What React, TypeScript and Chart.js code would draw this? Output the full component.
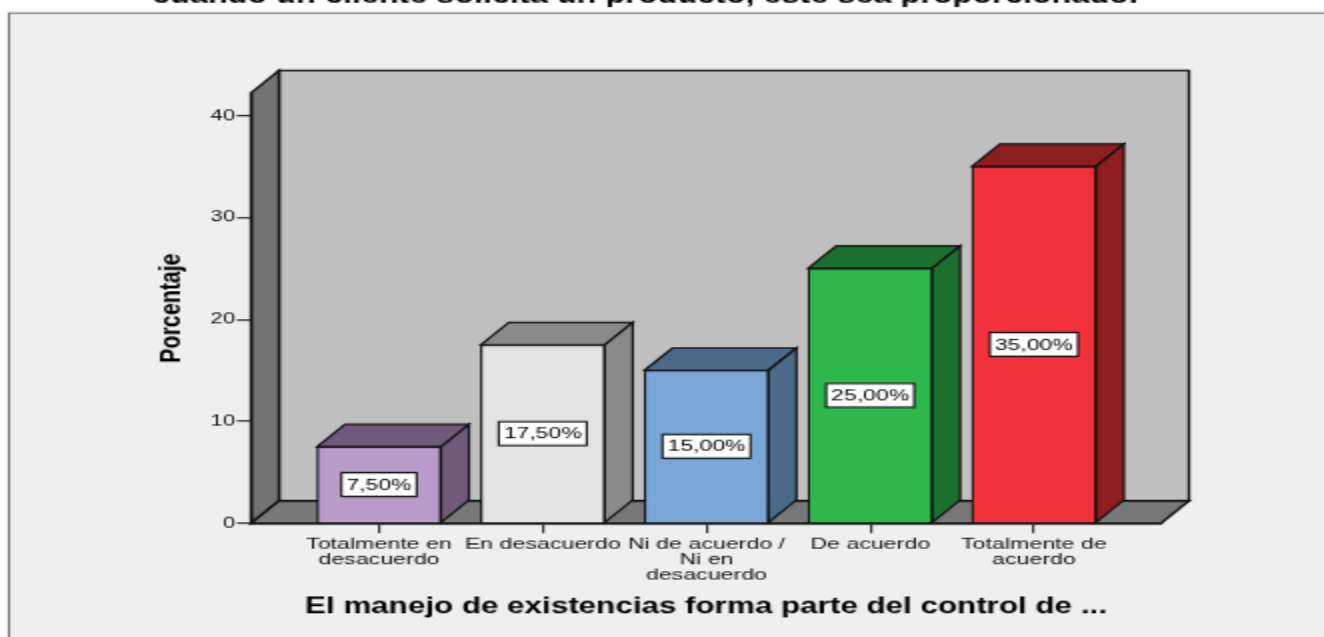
import React, { useEffect, useRef } from "react";
import { Chart, registerables } from "chart.js";

Chart.register(...registerables);

const categories: string[][] = [
  ["Totalmente en", "desacuerdo"],
  ["En desacuerdo"],
  ["Ni de acuerdo /", "Ni en", "desacuerdo"],
  ["De acuerdo"],
  ["Totalmente de", "acuerdo"],
];
const percentages = [7.5, 17.5, 15, 25, 35];
const frontColors = ["#b89bc9", "#e3e3e3", "#7ba7d8", "#2eb84c", "#f2323a"];
const sideColors = ["#705a7a", "#8a8a8a", "#4a6b8a", "#1c6f2e", "#8e1e20"];
const yTitle = "Porcentaje";
const xTitle = "El manejo de existencias forma parte del control de ...";
const chartTitle = "cuando un cliente solicita un producto, este sea proporcionado.";

const SX = 2;
const SY = 1.4;
const W = 662;
const H = 455;
const DX = 14;
const DY = -16;
const FONT = "'Liberation Sans', Arial, sans-serif";
const INK = "#111111";

function poly(ctx: CanvasRenderingContext2D, pts: number[][], fill: string, lw = 1.2) {
  ctx.beginPath();
  pts.forEach((p, i) => (i ? ctx.lineTo(p[0], p[1]) : ctx.moveTo(p[0], p[1])));
  ctx.closePath();
  ctx.fillStyle = fill;
  ctx.fill();
  ctx.strokeStyle = INK;
  ctx.lineWidth = lw;
  ctx.stroke();
}

const scene3d = {
  id: "scene3d",
  afterLayout(chart: any) {
    chart.titleBlock.left = 0;
    chart.titleBlock.right = 645;
  },
  beforeDraw(chart: any) {
    const ctx = chart.ctx;
    ctx.save();
    ctx.fillStyle = "#ffffff";
    ctx.fillRect(0, 0, W, H);
    ctx.fillStyle = "#efefef";
    ctx.fillRect(4.5, 9.2, W, H);
    ctx.strokeStyle = "#6e6e6e";
    ctx.lineWidth = 1.1;
    ctx.beginPath();
    ctx.moveTo(4.5, H);
    ctx.lineTo(4.5, 9.2);
    ctx.lineTo(W, 9.2);
    ctx.stroke();
    const { left, right, top, bottom } = chart.chartArea;
    poly(ctx, [[left + DX, top + DY], [right + DX, top + DY], [right + DX, bottom + DY], [left + DX, bottom + DY]], "#bfbfbf", 1.4);
    poly(ctx, [[left, top], [left + DX, top + DY], [left + DX, bottom + DY], [left, bottom]], "#737373", 1.4);
    poly(ctx, [[left, bottom], [left + DX, bottom + DY], [right + DX, bottom + DY], [right, bottom]], "#787878", 1.4);
    ctx.restore();
  },
  beforeDatasetsDraw(chart: any) {
    const ctx = chart.ctx;
    ctx.save();
    chart.getDatasetMeta(0).data.forEach((bar: any, i: number) => {
      const l = bar.x - bar.width / 2;
      const r = bar.x + bar.width / 2;
      poly(ctx, [[l, bar.y], [l + DX, bar.y + DY], [r + DX, bar.y + DY], [r, bar.y]], sideColors[i]);
      poly(ctx, [[r, bar.y], [r + DX, bar.y + DY], [r + DX, bar.base + DY], [r, bar.base]], sideColors[i]);
    });
    ctx.restore();
  },
  afterDatasetsDraw(chart: any) {
    const ctx = chart.ctx;
    ctx.save();
    ctx.font = `11.5px ${FONT}`;
    ctx.textAlign = "center";
    ctx.textBaseline = "middle";
    chart.getDatasetMeta(0).data.forEach((bar: any, i: number) => {
      const text = percentages[i].toFixed(2).replace(".", ",") + "%";
      const w = ctx.measureText(text).width + 5;
      const h = 17;
      const cy = (bar.y + bar.base) / 2;
      ctx.fillStyle = "#ffffff";
      ctx.fillRect(bar.x - w / 2, cy - h / 2, w, h);
      ctx.strokeStyle = INK;
      ctx.lineWidth = 1.1;
      ctx.strokeRect(bar.x - w / 2, cy - h / 2, w, h);
      ctx.fillStyle = "#000000";
      ctx.fillText(text, bar.x, cy + 0.5);
    });
    ctx.restore();
  },
};

export default function App() {
  const ref = useRef<HTMLCanvasElement>(null);
  useEffect(() => {
    const chart = new Chart(ref.current!, {
      type: "bar",
      data: {
        datasets: [
          {
            data: percentages.map((y, x) => ({ x, y })),
            backgroundColor: frontColors,
            borderColor: INK,
            borderWidth: 1.2,
            barThickness: 62,
          },
        ],
      },
      plugins: [scene3d],
      options: {
        responsive: false,
        animation: false,
        events: [],
        layout: { padding: { top: 0, left: 0, right: 81.5, bottom: 0 } },
        plugins: {
          legend: { display: false },
          tooltip: { enabled: false },
          title: {
            display: true,
            text: chartTitle,
            color: "#000000",
            font: { family: FONT, size: 16.2, weight: "bold", lineHeight: 1.2 },
            padding: { top: -11.7, bottom: 58.6 },
          },
        },
        scales: {
          x: {
            type: "linear",
            offset: false,
            min: -0.782,
            max: 4.776,
            grid: { offset: false, drawOnChartArea: false, drawTicks: true, tickLength: 7, color: "#333333", lineWidth: 1.2 },
            border: { color: INK, width: 1.4 },
            afterBuildTicks: (s: any) => {
              s.ticks = s.ticks.filter((t: any) => Number.isInteger(t.value));
            },
            afterFit: (s: any) => {
              s.height = H - 373.7;
            },
            ticks: {
              stepSize: 1,
              autoSkip: false,
              includeBounds: false,
              maxRotation: 0,
              minRotation: 0,
              padding: 2.8,
              color: "#111111",
              font: { family: FONT, size: 11.6, lineHeight: 0.94 },
              callback: (v: any) => categories[v] ?? "",
            },
            title: {
              display: true,
              text: xTitle,
              color: "#000000",
              font: { family: FONT, size: 15.7, weight: "bold", lineHeight: 1.2 },
              padding: { top: 0, bottom: 11.9 },
            },
          },
          y: {
            type: "linear",
            min: 0,
            max: 42.22,
            grid: { drawOnChartArea: false, drawTicks: true, tickLength: 7, color: "#333333", lineWidth: 1.2 },
            border: { color: INK, width: 1.4 },
            afterBuildTicks: (s: any) => {
              s.ticks = s.ticks.filter((t: any) => t.value % 10 === 0);
            },
            afterFit: (s: any) => {
              s.width = 125.5;
            },
            ticks: {
              stepSize: 10,
              includeBounds: false,
              padding: 1,
              color: "#111111",
              font: { family: FONT, size: 11 },
            },
            title: {
              display: true,
              text: yTitle,
              color: "#000000",
              font: { family: FONT, size: 15.3, weight: "bold", lineHeight: 1.2 },
              padding: { top: 77, bottom: 0 },
            },
          },
        },
      },
    } as any);
    return () => chart.destroy();
  }, []);
  return (
    <div style={{ position: "fixed", left: 0, top: 0, width: 1324, height: 637, overflow: "hidden", background: "#fff" }}>
      <canvas
        ref={ref}
        width={W}
        height={H}
        style={{ display: "block", transformOrigin: "0 0", transform: `scale(${SX}, ${SY})` }}
      />
    </div>
  );
}
